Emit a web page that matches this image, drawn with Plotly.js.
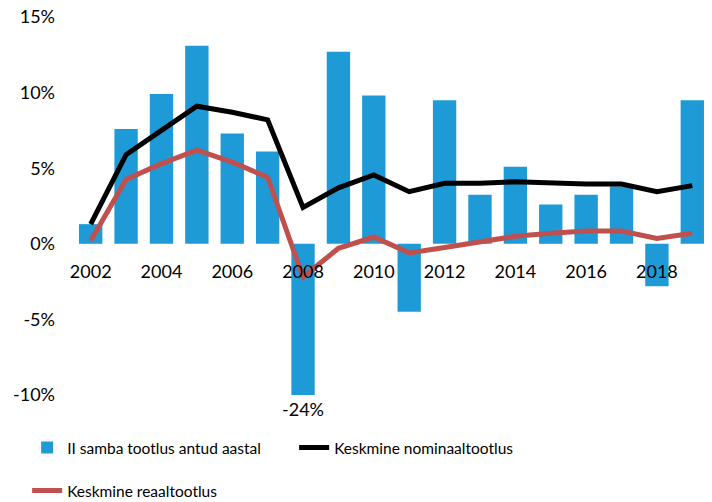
<!DOCTYPE html>
<html><head><meta charset="utf-8">
<script src="https://cdn.plot.ly/plotly-3.0.1.min.js"></script>
<style>html,body{margin:0;padding:0;background:#fff}</style>
</head><body><div id="chart" style="width:712px;height:502px"></div>
<script>
const years = [2002,2003,2004,2005,2006,2007,2008,2009,2010,2011,2012,2013,2014,2015,2016,2017,2018,2019];
const annualReturn = [1.3,7.6,9.9,13.1,7.3,6.1,-24,12.7,9.8,-4.5,9.5,3.25,5.1,2.6,3.25,3.8,-2.8,9.5];
const nominalAvg = [1.3,5.9,7.5,9.1,8.7,8.2,2.4,3.7,4.55,3.45,4.0,4.0,4.1,4.0,3.95,3.95,3.45,3.85];
const realAvg = [0.2,4.25,5.3,6.2,5.4,4.4,-2.2,-0.3,0.45,-0.6,-0.25,0.15,0.5,0.7,0.85,0.85,0.35,0.7];
const tickYears = [2002,2004,2006,2008,2010,2012,2014,2016,2018];
const yTicks = [-10,-5,0,5,10,15];
const names = ['II samba tootlus antud aastal','Keskmine nominaaltootlus','Keskmine reaaltootlus'];

const yMin = -10, yMax = 15;
const FONT = 'Lato, "Open Sans", sans-serif';

const traces = [
  {type:'bar', x:years, y:annualReturn, name:names[0], marker:{color:'#1E9BD7'}, legend:'legend'},
  {type:'scatter', mode:'lines', x:years, y:nominalAvg, name:names[1], line:{color:'#000000', width:5}, legend:'legend'},
  {type:'scatter', mode:'lines', x:years, y:realAvg, name:names[2], line:{color:'#C0504D', width:5}, legend:'legend2'}
];

const annotations = [];
years.forEach((yr,i)=>{
  if (annualReturn[i] < yMin) {
    annotations.push({x:yr, y:yMin, xref:'x', yref:'y', text:Math.round(annualReturn[i])+'%',
      showarrow:false, yanchor:'top', yshift:-1, font:{family:FONT, size:18, color:'#000'}});
  }
});

const layout = {
  width:712, height:502,
  margin:{l:73, r:2, t:17, b:107, autoexpand:false},
  paper_bgcolor:'#fff', plot_bgcolor:'#fff',
  bargap:0.34,
  font:{family:FONT, size:18, color:'#000'},
  xaxis:{range:[2001.5,2019.5], anchor:'free', position:(0-yMin)/(yMax-yMin),
    tickvals:tickYears, ticktext:tickYears.map(String), ticks:'', showline:false, showgrid:false, zeroline:false,
    ticklabelstandoff:15, tickfont:{family:FONT, size:18, color:'#000'}},
  yaxis:{range:[yMin,yMax], tickvals:yTicks, ticktext:yTicks.map(v=>v+'%'), ticks:'', showline:false,
    showgrid:false, zeroline:false, ticklabelstandoff:17, tickfont:{family:FONT, size:18, color:'#000'}},
  showlegend:true,
  legend:{orientation:'h', x:-0.072, xanchor:'left', y:-0.14, yanchor:'middle', entrywidth:222, entrywidthmode:'pixels',
    font:{family:FONT, size:15.5, color:'#000'}, bgcolor:'rgba(0,0,0,0)'},
  legend2:{orientation:'h', x:-0.072, xanchor:'left', y:-0.254, yanchor:'middle',
    font:{family:FONT, size:15.5, color:'#000'}, bgcolor:'rgba(0,0,0,0)'},
  annotations:annotations
};

Plotly.newPlot('chart', traces, layout, {displayModeBar:false, staticPlot:true});
</script></body></html>
